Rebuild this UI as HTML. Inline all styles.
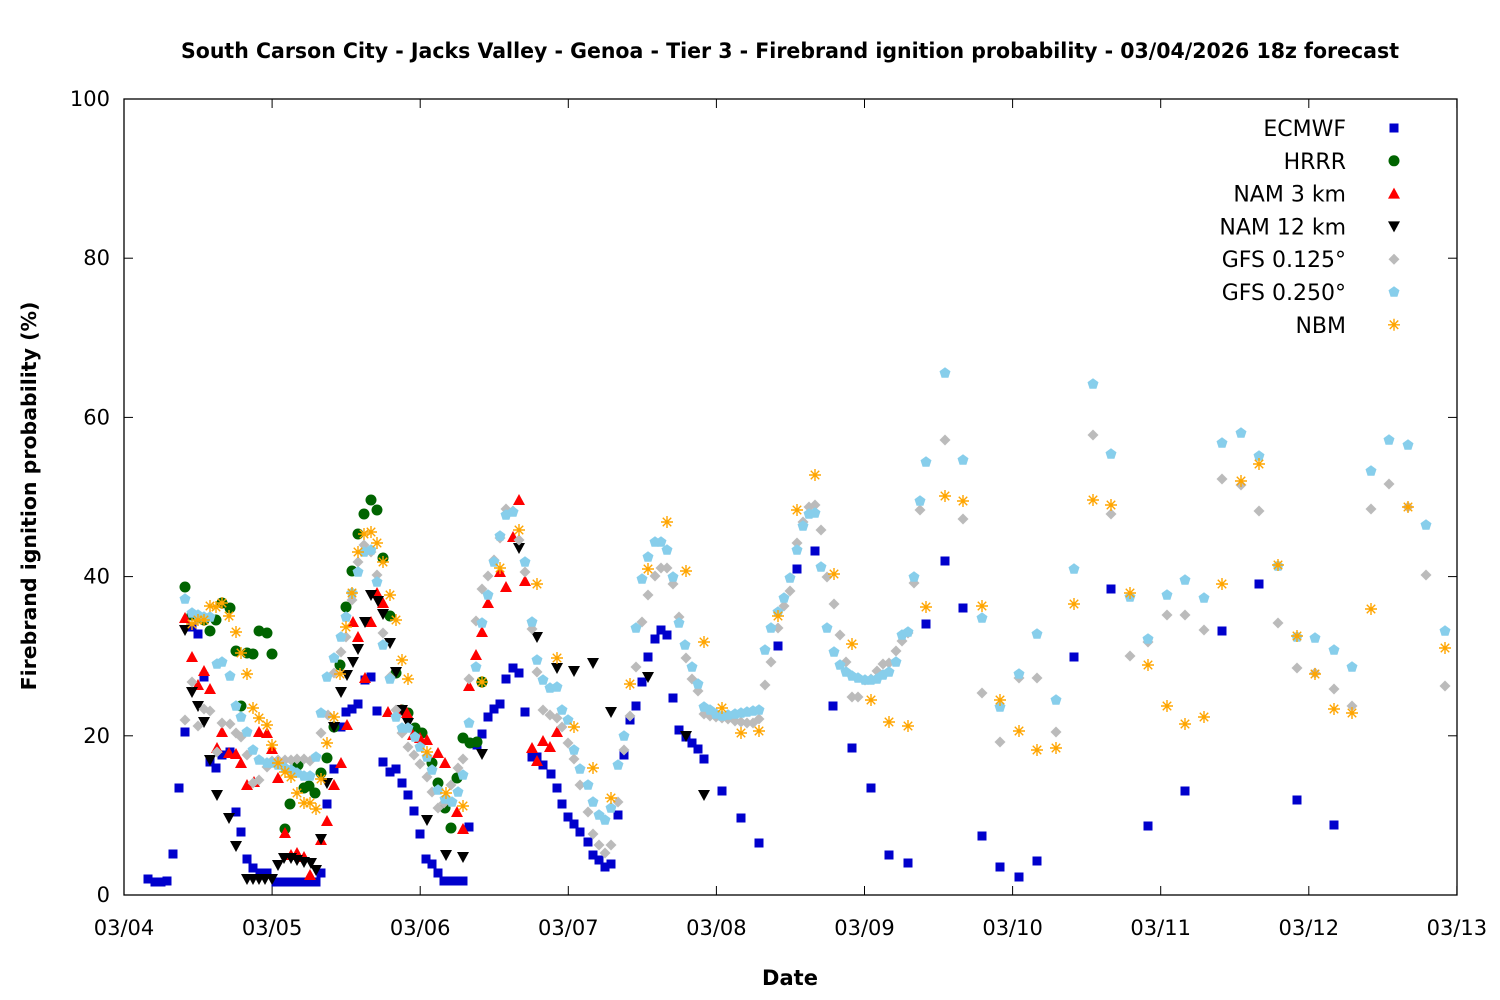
<!DOCTYPE html>
<html><head><meta charset="utf-8"><style>
body{margin:0;background:#fff}
svg{display:block}
text{font-family:"DejaVu Sans","Liberation Sans",sans-serif}
</style></head><body>
<svg id="s" width="1500" height="1000" xmlns="http://www.w3.org/2000/svg">
<rect width="1500" height="1000" fill="#fff"/>
<text x="790" y="58" font-size="21.5" font-weight="bold" text-anchor="middle" textLength="1218" lengthAdjust="spacingAndGlyphs">South Carson City - Jacks Valley - Genoa - Tier 3 - Firebrand ignition probability - 03/04/2026 18z forecast</text>
<text transform="translate(36,496) rotate(-90)" font-size="20.5" font-weight="bold" text-anchor="middle">Firebrand ignition probability (%)</text>
<text x="790" y="985" font-size="21" font-weight="bold" text-anchor="middle">Date</text>
<g id="ax" font-size="21"></g>
<g id="pts"></g>
<g id="leg" font-size="22"></g>
<rect x="124" y="99" width="1333" height="796" fill="none" stroke="#000" stroke-width="1.3"/>
</svg>
<script>
const NS="http://www.w3.org/2000/svg";
function el(p,t,a,txt){const e=document.createElementNS(NS,t);for(const k in a)e.setAttribute(k,a[k]);if(txt!==undefined)e.textContent=txt;p.appendChild(e);return e;}
const ax=document.getElementById('ax');
for(let i=0;i<=5;i++){const y=895-i*159.2;
 el(ax,'line',{x1:124,x2:133,y1:y,y2:y,stroke:'#000'});el(ax,'line',{x1:1448,x2:1457,y1:y,y2:y,stroke:'#000'});
 el(ax,'text',{x:110,y:y+7,'text-anchor':'end'},String(i*20));}
const days=['03/04','03/05','03/06','03/07','03/08','03/09','03/10','03/11','03/12','03/13'];
days.forEach((d,i)=>{const x=124+i*148.1;
 el(ax,'line',{x1:x,x2:x,y1:895,y2:886,stroke:'#000'});el(ax,'line',{x1:x,x2:x,y1:99,y2:108,stroke:'#000'});
 el(ax,'text',{x:x,y:935,'text-anchor':'middle'},d);});
const P=document.getElementById('pts');
function mk(g,type,x,y){
 if(type=='sq')el(g,'rect',{x:x-4.5,y:y-4.5,width:9,height:9,fill:'#0000cc'});
 else if(type=='ci')el(g,'circle',{cx:x,cy:y,r:5.5,fill:'#006400'});
 else if(type=='up')el(g,'polygon',{points:`${x-6},${y+5} ${x+6},${y+5} ${x},${y-6}`,fill:'#ff0000'});
 else if(type=='dn')el(g,'polygon',{points:`${x-6},${y-5} ${x+6},${y-5} ${x},${y+6}`,fill:'#000'});
 else if(type=='di')el(g,'polygon',{points:`${x},${y-5.5} ${x+5.5},${y} ${x},${y+5.5} ${x-5.5},${y}`,fill:'#bbbbbb'});
 else if(type=='pe'){let p=[];for(let k=0;k<5;k++){const a=-Math.PI/2+k*2*Math.PI/5;p.push((x+5.8*Math.cos(a)).toFixed(1)+','+(y+5.8*Math.sin(a)).toFixed(1));}el(g,'polygon',{points:p.join(' '),fill:'#87ceeb'});}
 else if(type=='as'){const r=6;let d='';for(let k=0;k<4;k++){const a=k*Math.PI/4;d+=`M${x-r*Math.cos(a)},${y-r*Math.sin(a)}L${x+r*Math.cos(a)},${y+r*Math.sin(a)}`;}el(g,'path',{d:d,stroke:'#ffa500','stroke-width':1.4,fill:'none'});}
}
const S={
sq:[[148,879],[155,882],[161,882],[167,881],[173,854],[179,788],[185,732],[192,627],[198,634],[204,677],[210,762],[216,768],[222,755],[230,752],[236,812],[241,832],[247,859],[253,868],[260,873],[267,873],[276,882],[282,882],[288,882],[294,882],[300,882],[306,882],[312,882],[316,882],[321,873],[327,804],[334,769],[341,727],[346,712],[352,709],[358,704],[365,680],[371,677],[377,711],[383,762],[390,772],[396,769],[402,783],[408,795],[414,811],[420,834],[426,859],[432,864],[438,873],[444,881],[450,881],[457,881],[463,881],[469,827],[477,745],[482,734],[488,717],[494,709],[500,704],[506,679],[513,668],[519,673],[525,712],[532,757],[537,757],[543,765],[551,774],[557,788],[562,804],[568,817],[574,824],[580,832],[588,842],[593,855],[599,860],[605,867],[611,864],[618,815],[624,755],[630,720],[636,706],[642,682],[648,657],[655,639],[661,630],[667,635],[673,698],[679,730],[686,737],[692,743],[698,749],[704,759],[722,791],[741,818],[759,843],[778,646],[797,569],[815,551],[833,706],[852,748],[871,788],[889,855],[908,863],[926,624],[945,561],[963,608],[982,836],[1000,867],[1019,877],[1037,861],[1074,657],[1111,589],[1148,826],[1185,791],[1222,631],[1259,584],[1297,800],[1334,825]],
ci:[[185,587],[192,615],[198,617],[204,620],[210,631],[216,620],[222,603],[230,608],[236,651],[241,706],[247,653],[253,654],[259,631],[267,633],[272,654],[285,829],[290,804],[298,765],[304,788],[309,786],[315,793],[321,773],[327,758],[334,727],[340,665],[346,607],[352,571],[358,534],[364,514],[371,500],[377,510],[383,558],[390,616],[396,673],[402,710],[408,713],[415,728],[422,733],[432,763],[438,783],[445,808],[451,828],[457,778],[463,738],[470,743],[477,742],[482,682]],
up:[[185,618],[192,657],[198,685],[204,671],[210,689],[217,748],[222,732],[229,753],[236,754],[241,763],[247,785],[254,782],[259,732],[267,733],[272,749],[278,778],[285,833],[291,855],[297,853],[304,857],[310,875],[321,840],[327,821],[334,785],[341,763],[347,725],[353,622],[358,637],[365,678],[371,622],[377,593],[383,603],[388,712],[401,710],[407,713],[413,735],[420,738],[427,740],[438,753],[445,763],[457,812],[463,829],[469,686],[476,655],[482,632],[488,603],[500,572],[506,587],[513,537],[519,500],[525,581],[532,748],[537,761],[543,741],[550,747],[557,732]],
dn:[[185,630],[192,692],[198,706],[204,722],[210,760],[217,795],[229,818],[236,846],[247,879],[253,879],[259,879],[265,879],[272,879],[278,865],[284,858],[291,858],[297,860],[304,862],[311,863],[316,870],[321,839],[327,783],[334,727],[341,692],[347,675],[353,662],[358,649],[365,622],[371,595],[378,601],[383,614],[390,643],[396,672],[402,710],[408,723],[427,820],[446,855],[463,857],[482,754],[519,548],[537,637],[557,668],[574,671],[593,663],[611,712],[648,677],[686,736],[704,795]],
di:[[185,720],[192,682],[198,726],[204,709],[210,711],[217,752],[222,723],[230,724],[236,733],[241,737],[247,755],[253,783],[259,780],[267,767],[272,761],[278,760],[285,760],[291,760],[297,759],[304,759],[310,761],[321,733],[328,715],[334,673],[341,652],[346,637],[352,600],[358,562],[364,545],[371,552],[377,575],[383,633],[390,677],[396,710],[402,733],[408,747],[414,755],[420,764],[427,777],[432,792],[438,808],[444,803],[451,785],[458,768],[463,759],[469,679],[476,621],[482,589],[488,576],[494,560],[500,538],[506,509],[513,511],[519,540],[525,572],[532,629],[537,672],[543,710],[550,715],[557,718],[562,727],[568,743],[574,759],[580,785],[588,812],[593,834],[599,845],[605,853],[611,845],[618,802],[624,750],[630,716],[636,667],[642,622],[648,595],[655,576],[661,568],[667,568],[673,584],[679,617],[686,658],[692,679],[698,691],[704,714],[710,716],[716,717],[722,718],[728,719],[735,721],[741,722],[747,723],[753,723],[759,719],[765,685],[771,662],[778,628],[784,606],[790,591],[797,543],[803,522],[809,507],[815,505],[821,530],[827,577],[834,604],[840,635],[846,662],[852,697],[858,697],[865,680],[871,679],[877,671],[883,664],[889,663],[896,651],[902,641],[908,633],[914,583],[920,510],[945,440],[963,519],[982,693],[1000,742],[1019,678],[1037,678],[1056,732],[1093,435],[1111,514],[1130,656],[1148,642],[1167,615],[1185,615],[1204,630],[1222,479],[1241,485],[1259,511],[1278,623],[1297,668],[1315,673],[1334,689],[1352,706],[1371,509],[1389,484],[1408,507],[1426,575],[1445,686]],
pe:[[185,599],[192,613],[198,615],[204,617],[210,617],[217,664],[222,662],[230,676],[236,706],[241,717],[247,732],[253,750],[259,760],[267,763],[272,763],[278,765],[285,768],[291,770],[297,773],[304,776],[310,776],[316,757],[321,713],[327,677],[334,658],[341,637],[346,617],[352,593],[358,572],[364,552],[371,550],[377,582],[383,645],[390,679],[396,717],[402,728],[408,728],[415,737],[420,747],[427,757],[432,770],[438,790],[445,799],[452,802],[458,792],[463,775],[469,723],[476,667],[482,623],[488,595],[494,562],[500,536],[506,515],[513,512],[525,562],[532,622],[537,660],[543,680],[550,688],[557,687],[562,710],[568,720],[574,750],[580,769],[588,785],[593,802],[599,815],[605,820],[611,808],[618,765],[624,736],[636,628],[642,579],[648,557],[655,542],[661,542],[667,550],[673,577],[679,623],[685,645],[692,667],[698,684],[704,707],[710,710],[716,714],[722,716],[728,715],[735,714],[741,713],[747,712],[753,711],[759,710],[765,650],[771,628],[778,612],[784,598],[790,578],[797,550],[803,526],[809,514],[815,513],[821,567],[827,628],[834,652],[840,665],[846,672],[852,676],[858,678],[865,680],[871,680],[877,679],[883,675],[889,672],[896,662],[902,635],[908,632],[914,577],[920,501],[926,462],[945,373],[963,460],[982,618],[1000,707],[1019,674],[1037,634],[1056,700],[1074,569],[1093,384],[1111,454],[1130,597],[1148,639],[1167,595],[1185,580],[1204,598],[1222,443],[1241,433],[1259,456],[1278,566],[1297,637],[1315,638],[1334,650],[1352,667],[1371,471],[1389,440],[1408,445],[1426,525],[1445,631]],
as:[[192,624],[198,620],[204,620],[210,606],[216,607],[222,603],[229,616],[236,632],[241,653],[247,674],[253,708],[259,718],[267,725],[272,745],[278,763],[285,772],[291,777],[297,793],[304,803],[310,803],[316,809],[321,779],[327,743],[334,717],[340,674],[346,627],[352,593],[358,552],[364,534],[371,532],[377,543],[383,562],[390,595],[396,620],[402,660],[408,679],[427,752],[446,793],[463,806],[482,682],[500,568],[519,530],[537,584],[557,658],[574,727],[593,768],[611,798],[630,684],[648,569],[667,522],[686,571],[704,642],[722,708],[741,733],[759,731],[778,616],[797,510],[815,475],[834,574],[852,644],[871,700],[889,722],[908,726],[926,607],[945,496],[963,501],[982,606],[1000,700],[1019,731],[1037,750],[1056,748],[1074,604],[1093,500],[1111,505],[1130,593],[1148,665],[1167,706],[1185,724],[1204,717],[1222,584],[1241,481],[1259,464],[1278,565],[1297,636],[1315,674],[1334,709],[1352,713],[1371,609],[1408,507],[1445,648]]
};
['sq','ci','up','dn','di','pe','as'].forEach(t=>{const g=el(P,'g',{});S[t].forEach(p=>mk(g,t,p[0],p[1]));});
const L=document.getElementById('leg');
const names=[['ECMWF','sq'],['HRRR','ci'],['NAM 3 km','up'],['NAM 12 km','dn'],['GFS 0.125°','di'],['GFS 0.250°','pe'],['NBM','as']];
names.forEach((n,i)=>{const y=128+i*32.8;el(L,'text',{x:1346,y:y+8,'text-anchor':'end'},n[0]);mk(L,n[1],1394,y);});
</script>
</body></html>
